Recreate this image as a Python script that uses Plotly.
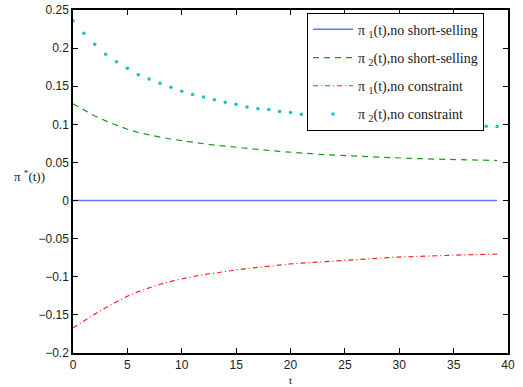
import plotly.graph_objects as go

# time steps
t = list(range(40))

# optimal proportions, no short-selling
pi1_nss = [0.0] * 40
pi2_nss = [0.127, 0.1185, 0.111, 0.1045, 0.0985, 0.0935, 0.0893, 0.0860, 0.0832, 0.0808,
           0.0785, 0.0764, 0.0745, 0.0728, 0.0712, 0.0697, 0.0683, 0.0670, 0.0657, 0.0645,
           0.0633, 0.0622, 0.0612, 0.0603, 0.0595, 0.0588, 0.0581, 0.0575, 0.0569, 0.0563,
           0.0558, 0.0553, 0.0549, 0.0545, 0.0541, 0.0537, 0.0534, 0.0531, 0.0528, 0.0525]

# optimal proportions, no constraint
pi1_nc = [-0.167, -0.1575, -0.149, -0.1405, -0.1325, -0.1255, -0.1195, -0.1142, -0.1098, -0.106,
          -0.1027, -0.0998, -0.0973, -0.095, -0.0929, -0.091, -0.0892, -0.0875, -0.0859, -0.0845,
          -0.0832, -0.0821, -0.0811, -0.0801, -0.0791, -0.0781, -0.0772, -0.0763, -0.0755, -0.0748,
          -0.0741, -0.0735, -0.073, -0.0725, -0.072, -0.0716, -0.0712, -0.0709, -0.0706, -0.0703]
pi2_nc = [0.236, 0.2195, 0.205, 0.192, 0.182, 0.1736, 0.165, 0.1596, 0.154, 0.1487,
          0.1434, 0.139, 0.136, 0.1324, 0.129, 0.1264, 0.1229, 0.1206, 0.1193, 0.1167,
          0.1154, 0.1133, 0.1118, 0.1103, 0.109, 0.1077, 0.1065, 0.1053, 0.1042, 0.1032,
          0.1022, 0.1013, 0.1005, 0.0998, 0.0992, 0.0987, 0.0983, 0.0979, 0.0976, 0.0973]

names = ["π <sub>1</sub>(t),no short-selling", "π <sub>2</sub>(t),no short-selling",
         "π <sub>1</sub>(t),no constraint", "π <sub>2</sub>(t),no constraint"]

fig = go.Figure()
fig.add_trace(go.Scatter(x=t, y=pi1_nss, mode="lines", name=names[0], legendgroup="a",
                         line=dict(color="#6f6ff5", width=1.5)))
fig.add_trace(go.Scatter(x=t, y=pi2_nss, mode="lines", name=names[1], legendgroup="b",
                         line=dict(color="#1a9a1a", width=1.2, dash="6px,5px")))
fig.add_trace(go.Scatter(x=t, y=pi1_nc, mode="lines", name=names[2], legendgroup="c",
                         line=dict(color="#ff2020", width=1.2, dash="5px,3px,1px,3px")))
fig.add_trace(go.Scatter(x=t, y=pi2_nc, mode="markers", name=names[3], legendgroup="d",
                         cliponaxis=False,
                         marker=dict(color="#10c4c4", size=3.5)))

axis_common = dict(showgrid=False, zeroline=False, showline=True, linecolor="black",
                   linewidth=1.5, mirror="ticks", ticks="inside", ticklen=5,
                   tickcolor="black", tickwidth=1, automargin=False,
                   tickfont=dict(family="Liberation Sans, Arial", size=12, color="#222"))

fig.update_layout(
    width=523, height=387,
    margin=dict(l=73, r=15, t=10, b=34),
    paper_bgcolor="white", plot_bgcolor="white",
    showlegend=True,
    legend=dict(x=0.538, y=0.992, xanchor="left", yanchor="top",
                bgcolor="white", bordercolor="black", borderwidth=1,
                font=dict(family="Liberation Serif, DejaVu Serif", size=14, color="#222"),
                tracegroupgap=7, itemwidth=40),
    xaxis=dict(range=[0, 40], dtick=5, tick0=0, **axis_common),
    yaxis=dict(range=[-0.2, 0.25], dtick=0.05, tick0=0, **axis_common),
    annotations=[
        dict(text="t", xref="paper", yref="paper", x=0.5, y=-0.078, xanchor="center",
             yanchor="middle", showarrow=False,
             font=dict(family="Liberation Serif, DejaVu Serif", size=11, color="#222")),
        dict(text="π <sup>*</sup>(t))", xref="paper", yref="y", x=-0.06, y=0.032,
             xanchor="right", yanchor="middle", showarrow=False,
             font=dict(family="Liberation Serif, DejaVu Serif", size=13, color="#222")),
    ],
)

fig.write_html("out.html")
